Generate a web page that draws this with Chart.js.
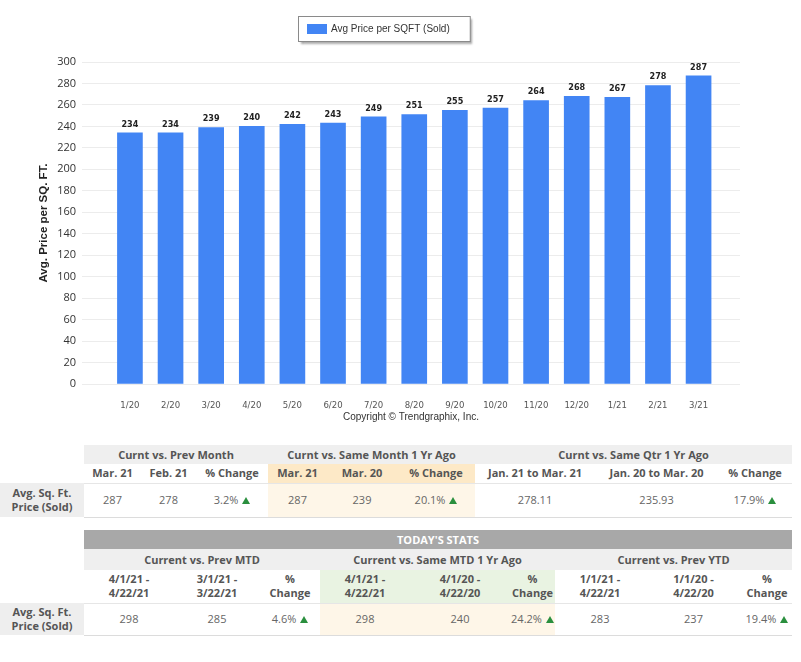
<!DOCTYPE html>
<html>
<head>
<meta charset="utf-8">
<script src="https://cdn.jsdelivr.net/npm/chart.js@4"></script>
<style>
  html, body { margin: 0; padding: 0; background: #fff; }
  body { width: 801px; height: 662px; position: relative; overflow: hidden; font-family: "Open Sans", "Noto Sans", sans-serif; }
  #chartWrap { position: absolute; left: 0; top: 0; width: 801px; height: 430px; }
  table.stats { position: absolute; left: 0; width: 792px; border-collapse: collapse; table-layout: fixed; font-size: 11px; color: #555; }
  table.stats td { padding: 0; text-align: center; vertical-align: middle; line-height: 14px; white-space: pre-line; }
  .grp td.h { background: #efefef; font-weight: bold; color: #555; }
  .sub td.h { font-weight: bold; color: #555; border-bottom: 1px solid #e6e6e6; }
  .sub td.hl1 { background: #fde9c7; }
  .sub td.hl2 { background: #e9f3e2; }
  .val td { color: #666; border-bottom: 1px solid #dcdcdc; }
  .val td.hl { background: #fef6e8; }
  .val td.lbl { background: #eeeeee; font-weight: bold; color: #555; border-bottom: none; }
  .ttl td.h { background: #a8a8a8; color: #fff; font-weight: bold; }
  .up { display: inline-block; width: 0; height: 0; margin-left: 4px; border-left: 4px solid transparent; border-right: 4px solid transparent; border-bottom: 7px solid #2a8f3e; vertical-align: 0px; }
</style>
</head>
<body>
<div id="chartWrap"><canvas id="priceChart"></canvas></div>
<table class="stats" id="monthTable" style="top:445px"></table>
<table class="stats" id="todayTable" style="top:530px"></table>
<script>
// ─── Chart data ────────────────────────────────────────────────────────────────
const categories   = ['1/20', '2/20', '3/20', '4/20', '5/20', '6/20', '7/20', '8/20',
                      '9/20', '10/20', '11/20', '12/20', '1/21', '2/21', '3/21'];
const avgPriceSold = [234, 234, 239, 240, 242, 243, 249, 251, 255, 257, 264, 268, 267, 278, 287];
const seriesLabel  = 'Avg Price per SQFT (Sold)';
const yMin = 0, yMax = 300, yStep = 20;

// ─── Table data ────────────────────────────────────────────────────────────────
const rowLabel    = 'Avg. Sq. Ft.\nPrice (Sold)';
const monthGroups = ['Curnt vs. Prev Month', 'Curnt vs. Same Month 1 Yr Ago', 'Curnt vs. Same Qtr 1 Yr Ago'];
const monthCols   = ['Mar. 21', 'Feb. 21', '% Change', 'Mar. 21', 'Mar. 20', '% Change',
                     'Jan. 21 to Mar. 21', 'Jan. 20 to Mar. 20', '% Change'];
const monthVals   = ['287', '278', '3.2%', '287', '239', '20.1%', '278.11', '235.93', '17.9%'];
const todayTitle  = "TODAY'S STATS";
const todayGroups = ['Current vs. Prev MTD', 'Current vs. Same MTD 1 Yr Ago', 'Current vs. Prev YTD'];
const todayCols   = ['4/1/21 -\n4/22/21', '3/1/21 -\n3/22/21', '%\nChange', '4/1/21 -\n4/22/21', '4/1/20 -\n4/22/20',
                     '%\nChange', '1/1/21 -\n4/22/21', '1/1/20 -\n4/22/20', '%\nChange'];
const todayVals   = ['298', '285', '4.6%', '298', '240', '24.2%', '283', '237', '19.4%'];

// ─── Layout helpers ────────────────────────────────────────────────────────────
const monthWidths = [84, 57, 55, 72, 59, 70, 78, 120, 123, 74];
const todayWidths = [84, 90, 86, 60, 90, 100, 45, 90, 97, 50];

function buildTable(el, widths, rowH, title, groups, cols, vals, subClass) {
  let html = '<colgroup>' + widths.map(w => `<col style="width:${w}px">`).join('') + '</colgroup>';
  let r = 0;
  if (title) {
    html += `<tr class="ttl" style="height:${rowH[r++]}px"><td></td><td class="h" colspan="9">${title}</td></tr>`;
  }
  html += `<tr class="grp" style="height:${rowH[r++]}px"><td></td>` +
          groups.map(g => `<td class="h" colspan="3">${g}</td>`).join('') + '</tr>';
  html += `<tr class="sub" style="height:${rowH[r++]}px"><td></td>` +
          cols.map((c, i) => `<td class="h${i >= 3 && i < 6 ? ' ' + subClass : ''}">${c}</td>`).join('') + '</tr>';
  html += `<tr class="val" style="height:${rowH[r++]}px"><td class="lbl">${rowLabel}</td>` +
          vals.map((v, i) => `<td class="${i >= 3 && i < 6 ? 'hl' : ''}">${v}${v.endsWith('%') ? '<span class="up"></span>' : ''}</td>`).join('') + '</tr>';
  el.innerHTML = html;
}

buildTable(document.getElementById('monthTable'), monthWidths, [19, 19, 34], null,
           monthGroups, monthCols, monthVals, 'hl1');
buildTable(document.getElementById('todayTable'), todayWidths, [19, 21, 33, 32], todayTitle,
           todayGroups, todayCols, todayVals, 'hl2');

// ─── Chart plugins ─────────────────────────────────────────────────────────────
const SANS   = '"Liberation Sans", Arial, sans-serif';
const NARROW = '"Liberation Sans Narrow", "DejaVu Sans Condensed", sans-serif';

// boxed legend with drop shadow
const legendBox = {
  id: 'legendBox',
  afterDraw(chart) {
    const ds  = chart.data.datasets[0];
    const ctx = chart.ctx;
    ctx.save();
    ctx.font = '10px ' + SANS;
    const tw = ctx.measureText(ds.label).width;
    const w  = 9 + 20 + 4 + tw + 20;
    const x  = Math.round(384 - w / 2) + 0.5;
    const y  = 16.5, h = 25;
    ctx.shadowColor   = 'rgba(0,0,0,0.35)';
    ctx.shadowOffsetX = 2;
    ctx.shadowOffsetY = 2;
    ctx.shadowBlur    = 2;
    ctx.fillStyle = '#fff';
    ctx.fillRect(x, y, w, h);
    ctx.shadowColor = 'transparent';
    ctx.strokeStyle = '#8a8a8a';
    ctx.lineWidth = 1;
    ctx.strokeRect(x, y, w, h);
    ctx.fillStyle = ds.backgroundColor;
    ctx.fillRect(x + 8.5, y + 7.5, 20, 10);
    ctx.fillStyle = '#333';
    ctx.textBaseline = 'middle';
    ctx.fillText(ds.label, x + 32.5, y + h / 2 + 0.5);
    ctx.restore();
  }
};

// value labels above bars
const barValues = {
  id: 'barValues',
  afterDatasetsDraw(chart) {
    const ctx  = chart.ctx;
    const meta = chart.getDatasetMeta(0);
    ctx.save();
    ctx.font = 'bold 9px ' + NARROW;
    ctx.fillStyle = '#222';
    ctx.textAlign = 'center';
    ctx.textBaseline = 'bottom';
    meta.data.forEach((bar, i) => {
      ctx.fillText(String(chart.data.datasets[0].data[i].y), bar.x, bar.y - 4);
    });
    ctx.restore();
  }
};

// ─── Chart ─────────────────────────────────────────────────────────────────────
new Chart(document.getElementById('priceChart'), {
  type: 'bar',
  data: {
    datasets: [{
      label: seriesLabel,
      data: categories.map((c, i) => ({ x: i, y: avgPriceSold[i] })),
      backgroundColor: '#4285f4',
      borderWidth: 0,
      barThickness: 25,
    }],
  },
  options: {
    responsive: true,
    maintainAspectRatio: false,
    animation: false,
    layout: { padding: { left: 0, right: 61, top: 62, bottom: 0 } },
    plugins: {
      legend:  { display: false },
      tooltip: { enabled: false },
    },
    scales: {
      x: {
        type: 'linear',
        min: -1.18,
        max: 15.02,
        offset: false,
        grid:   { display: false },
        border: { display: false },
        ticks: {
          stepSize: 1,
          autoSkip: false,
          maxRotation: 0,
          padding: 8,
          color: '#555',
          font: { size: 9.5, family: NARROW },
          callback: v => (Number.isInteger(v) && categories[v]) ? categories[v] : '',
        },
        title: {
          display: true,
          text: 'Copyright © Trendgraphix, Inc.',
          color: '#333',
          font: { size: 10, family: SANS },
          padding: { top: 0, bottom: 7 },
        },
        afterFit(s) { s.height = 46; },
      },
      y: {
        min: yMin,
        max: yMax,
        grid:   { color: '#ececec', drawTicks: false },
        border: { display: false },
        ticks: {
          stepSize: yStep,
          padding: 6,
          color: '#333',
          font: { size: 11, family: '"Open Sans", sans-serif' },
        },
        title: {
          display: true,
          text: 'Avg. Price per SQ. FT.',
          color: '#222',
          font: { size: 11.5, weight: 'bold', family: SANS },
          padding: { top: 37, bottom: 0 },
        },
        afterFit(s) { s.width = 82; },
      },
    },
  },
  plugins: [legendBox, barValues],
});
</script>
</body>
</html>
